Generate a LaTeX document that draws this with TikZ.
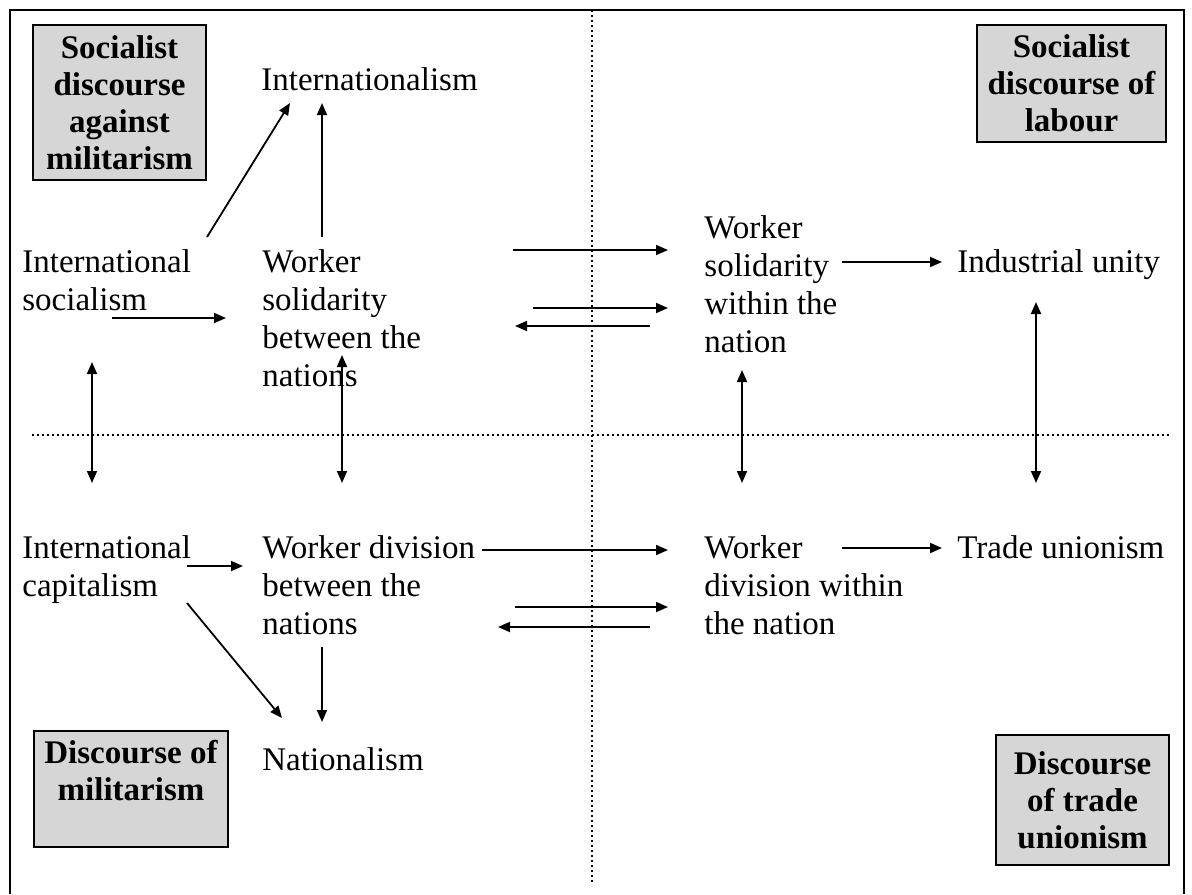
\documentclass[tikz,border=0pt]{standalone}
\usepackage{fontspec}
\setmainfont{Liberation Serif}
\usetikzlibrary{arrows.meta}

\begin{document}
\begin{tikzpicture}[x=0.5pt,y=-0.5pt,
  % concept labels are placed by the baseline of their last line
  lbl/.style={anchor=base west, inner sep=0pt, align=left,
              font=\fontsize{16.5}{19}\selectfont},
  disc/.style={draw=black, line width=0.6pt, fill=black!16, inner sep=0pt,
               align=center, font=\fontsize{16.5}{18.5}\selectfont\bfseries},
  tip/.tip={Triangle[length=6pt,width=5pt]},
  arr/.style={line width=0.9pt, -tip},
  darr/.style={line width=0.9pt, tip-tip},
  sep/.style={line width=0.9pt, dash pattern=on 0.9pt off 1.6pt}]

\useasboundingbox (0,0) rectangle (1192,894);

% outer frame (open at the foot of the page)
\draw[line width=1pt] (10,894) -- (10,10) -- (1184,10) -- (1184,894);

% quadrant separators
\draw[sep] (32,435) -- (1172,435);
\draw[sep] (592,10) -- (592,882);

% discourse boxes in the four corners
\node[disc, minimum width=86.5pt, minimum height=77.5pt] (dsam) at (119.5,102.5)
  {Socialist\\discourse\\against\\militarism};
\node[disc, minimum width=94.5pt, minimum height=58.5pt] (dsl) at (1071.5,83.5)
  {Socialist\\discourse of\\labour};
\node[disc, minimum width=97pt, minimum height=58pt] (dm) at (131,789)
  {Discourse of\\militarism\\\mbox{}};
\node[disc, minimum width=86.5pt, minimum height=65pt] (dtu) at (1082.5,800)
  {Discourse\\of trade\\unionism};

% concepts
\node[lbl] (intl) at (261,90)  {Internationalism};
\node[lbl] (isoc) at (22,310)  {International\\socialism};
\node[lbl] (wsb)  at (262,386) {Worker\\solidarity\\between the\\nations};
\node[lbl] (wsw)  at (704,352) {Worker\\solidarity\\within the\\nation};
\node[lbl] (iu)   at (957,272) {Industrial unity};
\node[lbl] (icap) at (22,596)  {International\\capitalism};
\node[lbl] (wdb)  at (262,634) {Worker division\\between the\\nations};
\node[lbl] (wdw)  at (704,634) {Worker\\division within\\the nation};
\node[lbl] (tu)   at (957,558) {Trade unionism};
\node[lbl] (nat)  at (262,770) {Nationalism};

% upper half
\draw[arr] ([shift={(185,-73)}]isoc.base west) -- ([shift={(29,13)}]intl.base west);
\draw[arr] ([shift={(60,-149)}]wsb.base west) -- ([shift={(61,13)}]intl.base west);
\draw[arr] ([shift={(90,8)}]isoc.base west) -- ([shift={(-36,-68)}]wsb.base west);
\draw[arr] ([shift={(251,-136)}]wsb.base west) -- ([shift={(-36,-102)}]wsw.base west);
\draw[arr] ([shift={(271,-78)}]wsb.base west) -- ([shift={(-36,-44)}]wsw.base west);
\draw[arr] ([shift={(-54,-26)}]wsw.base west) -- ([shift={(253,-60)}]wsb.base west);
\draw[arr] ([shift={(138,-90)}]wsw.base west) -- ([shift={(-15,-10)}]iu.base west);

% links across the horizontal separator
\draw[darr] ([shift={(70,52)}]isoc.base west) -- ([shift={(70,-113)}]icap.base west);
\draw[darr] ([shift={(80,-31)}]wsb.base west) -- ([shift={(80,-151)}]wdb.base west);
\draw[darr] ([shift={(38,18)}]wsw.base west) -- ([shift={(38,-151)}]wdw.base west);
\draw[darr] ([shift={(79,30)}]iu.base west) -- ([shift={(79,-75)}]tu.base west);

% lower half
\draw[arr] ([shift={(165,-30)}]icap.base west) -- ([shift={(-19,-68)}]wdb.base west);
\draw[arr] ([shift={(220,-84)}]wdb.base west) -- ([shift={(-36,-84)}]wdw.base west);
\draw[arr] ([shift={(253,-27)}]wdb.base west) -- ([shift={(-36,-27)}]wdw.base west);
\draw[arr] ([shift={(-54,-7)}]wdw.base west) -- ([shift={(236,-7)}]wdb.base west);
\draw[arr] ([shift={(138,-86)}]wdw.base west) -- ([shift={(-15,-10)}]tu.base west);
\draw[arr] ([shift={(165,7)}]icap.base west) -- ([shift={(20,-52)}]nat.base west);
\draw[arr] ([shift={(60,13)}]wdb.base west) -- ([shift={(60,-48)}]nat.base west);

\end{tikzpicture}
\end{document}
